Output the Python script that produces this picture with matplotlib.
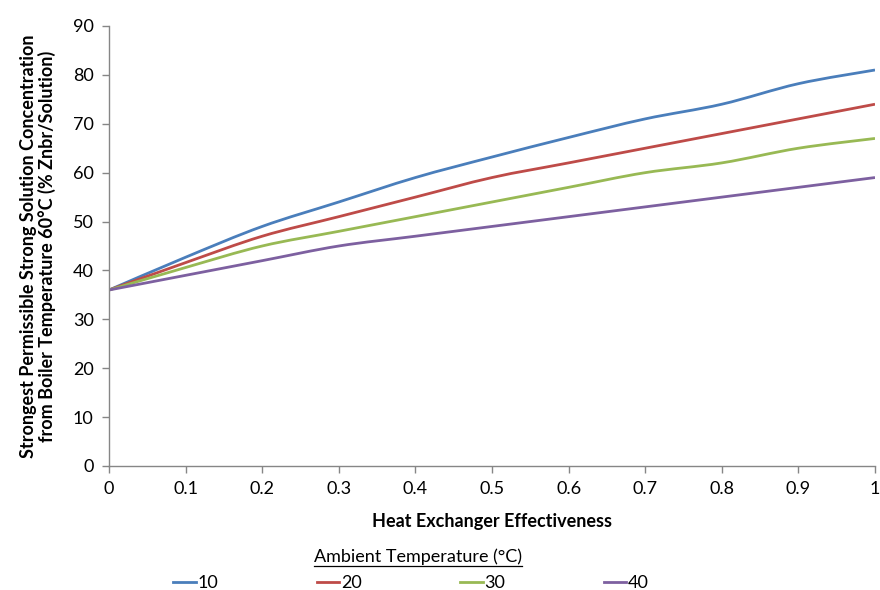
import matplotlib
matplotlib.use("Agg")
import matplotlib.pyplot as plt
from matplotlib.path import Path
from matplotlib.patches import PathPatch
from matplotlib.lines import Line2D
from matplotlib.ticker import FuncFormatter
import numpy as np

effectiveness = [0, 0.1, 0.2, 0.3, 0.4, 0.5, 0.6, 0.7, 0.8, 0.9, 1.0]
temp_10 = [36, 42.7, 49, 54, 59, 63.2, 67.2, 71, 74, 78.2, 81]
temp_20 = [36, 41.6, 47, 51, 55, 59, 62, 65, 68, 71, 74]
temp_30 = [36, 40.6, 45, 48, 51, 54, 57, 60, 62, 65, 67]
temp_40 = [36, 39, 42, 45, 47, 49, 51, 53, 55, 57, 59]
series_labels = ["10", "20", "30", "40"]
colors = ["#4A7EBB", "#BE4B48", "#98B954", "#7D60A0"]

FONT = ["Lato", "DejaVu Sans"]
plt.rcParams["font.family"] = FONT
FS = 13

W, H = 880, 590
fig = plt.figure(figsize=(W / 100, H / 100), dpi=100)
ax = fig.add_axes([109 / W, 1 - 466 / H, 766 / W, 440 / H])


def smooth_path(x, y):
    x = np.asarray(x, float)
    y = np.asarray(y, float)
    n = len(x)
    verts = [(x[0], y[0])]
    codes = [Path.MOVETO]
    for i in range(n - 1):
        p0 = np.array([x[max(i - 1, 0)], y[max(i - 1, 0)]])
        p1 = np.array([x[i], y[i]])
        p2 = np.array([x[i + 1], y[i + 1]])
        p3 = np.array([x[min(i + 2, n - 1)], y[min(i + 2, n - 1)]])
        c1 = p1 + (p2 - p0) / 6.0
        c2 = p2 - (p3 - p1) / 6.0
        verts += [tuple(c1), tuple(c2), tuple(p2)]
        codes += [Path.CURVE4] * 3
    return Path(verts, codes)


handles = []
for ys, lab, c in zip([temp_10, temp_20, temp_30, temp_40], series_labels, colors):
    patch = PathPatch(smooth_path(effectiveness, ys), facecolor="none",
                      edgecolor=c, lw=2.0, capstyle="butt", joinstyle="round")
    ax.add_patch(patch)
    handles.append(Line2D([], [], color=c, lw=2.0, label=lab))

ax.set_xlim(0, 1)
ax.set_ylim(0, 90)
ax.set_xticks(effectiveness)
ax.set_yticks(np.arange(0, 91, 10))
ax.xaxis.set_major_formatter(FuncFormatter(lambda v, p: f"{v:g}"))

for s in ["top", "right"]:
    ax.spines[s].set_visible(False)
for s in ["left", "bottom"]:
    ax.spines[s].set_color("#868686")
    ax.spines[s].set_linewidth(1.0)
ax.tick_params(axis="both", direction="out", length=5, width=1.0,
               color="#868686", labelsize=FS, labelcolor="#000000")
ax.tick_params(axis="x", pad=6)
ax.tick_params(axis="y", pad=6)

ax.set_xlabel("Heat Exchanger Effectiveness", fontsize=FS, fontweight="bold",
              labelpad=11)
ax.set_ylabel("Strongest Permissible Strong Solution Concentration\n"
              "from Boiler Temperature 60°C (% Znbr/Solution)",
              fontsize=FS, fontweight="bold", labelpad=12, linespacing=1.1)

title = fig.text(418 / W, 1 - 557 / H, "Ambient Temperature (°C)",
                 ha="center", va="center", fontsize=FS)
fig.legend(handles=handles, loc="center", bbox_to_anchor=(411 / W, 1 - 583 / H),
           ncol=4, frameon=False, fontsize=FS, handlelength=1.25,
           handletextpad=0.1, columnspacing=5.45, borderaxespad=0)

fig.canvas.draw()
bb = title.get_window_extent(fig.canvas.get_renderer())
inv = fig.transFigure.inverted()
(x0, y0), (x1, y1) = inv.transform([(bb.x0, bb.y0), (bb.x1, bb.y1)])
fig.add_artist(Line2D([x0, x1], [y0 - 1.0 / H, y0 - 1.0 / H],
                      transform=fig.transFigure, color="black", lw=0.9))

fig.savefig("out.png", dpi=100)
